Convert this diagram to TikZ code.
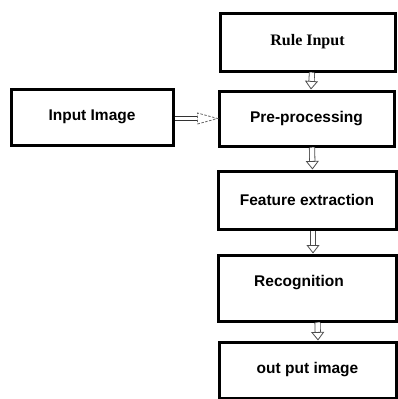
\documentclass[tikz,border=0pt]{standalone}
\usepackage{fontspec}
\setmainfont{Liberation Sans}
\newfontfamily\serifb{Liberation Serif}
\usetikzlibrary{arrows.meta}
\begin{document}
\begin{tikzpicture}[x=1pt,y=-1pt,
  box/.style={draw=black, line width=3pt, rectangle, inner sep=0pt, fill=white,
    font=\fontsize{15.5}{18}\selectfont\bfseries, anchor=center},
  flow/.style={draw=black!70, line width=0.8pt, double=white, double distance=4.5pt,
    -{Triangle[open, width=13pt, length=8.5pt, line width=0.8pt]}},
  shaft/.style={draw=black!80, line width=1pt, double=white, double distance=3.5pt},
  dhead/.style={draw=black!60, line width=0.8pt, dashed, dash pattern=on 2.5pt off 1.5pt}
]
\useasboundingbox (0,0) rectangle (397,399);
\node[box, minimum width=175pt, minimum height=58pt] (rule) at (307.5,42)
  {\serifb\bfseries\fontsize{16}{19}\selectfont Rule Input};
\node[box, minimum width=175pt, minimum height=55pt] (pre) at (306.5,118.5) {Pre-processing};
\node[box, minimum width=178pt, minimum height=58pt] (feat) at (307,200) {Feature extraction};
\node[box, minimum width=178pt, minimum height=66pt] (rec) at (307,288) {};
\node[font=\fontsize{15.5}{18}\selectfont\bfseries] (rect) at (299,283) {Recognition};
\node[box, minimum width=177pt, minimum height=56pt] (out) at (307.5,370) {out put image};
\node[box, minimum width=162pt, minimum height=56pt] (inp) at (92,117) {Input Image};
\draw[flow] ([xshift=4.5pt]rule.south) -- ([xshift=4.5pt]pre.north);
\draw[flow] ([xshift=5.5pt]pre.south) -- ([xshift=5.5pt]feat.north);
\draw[flow] ([xshift=6pt]feat.south) -- ([xshift=6pt]rec.north);
\draw[flow] ([xshift=10.5pt]rec.south) -- ([xshift=10.5pt]out.north);
\draw[shaft] ([yshift=-1.5pt]inp.east) -- ++(23,0) coordinate (h);
\draw[dhead] ([yshift=-5.5pt]h) -- (h -| pre.west) -- ([yshift=5.5pt]h) -- cycle;
\end{tikzpicture}
\end{document}
